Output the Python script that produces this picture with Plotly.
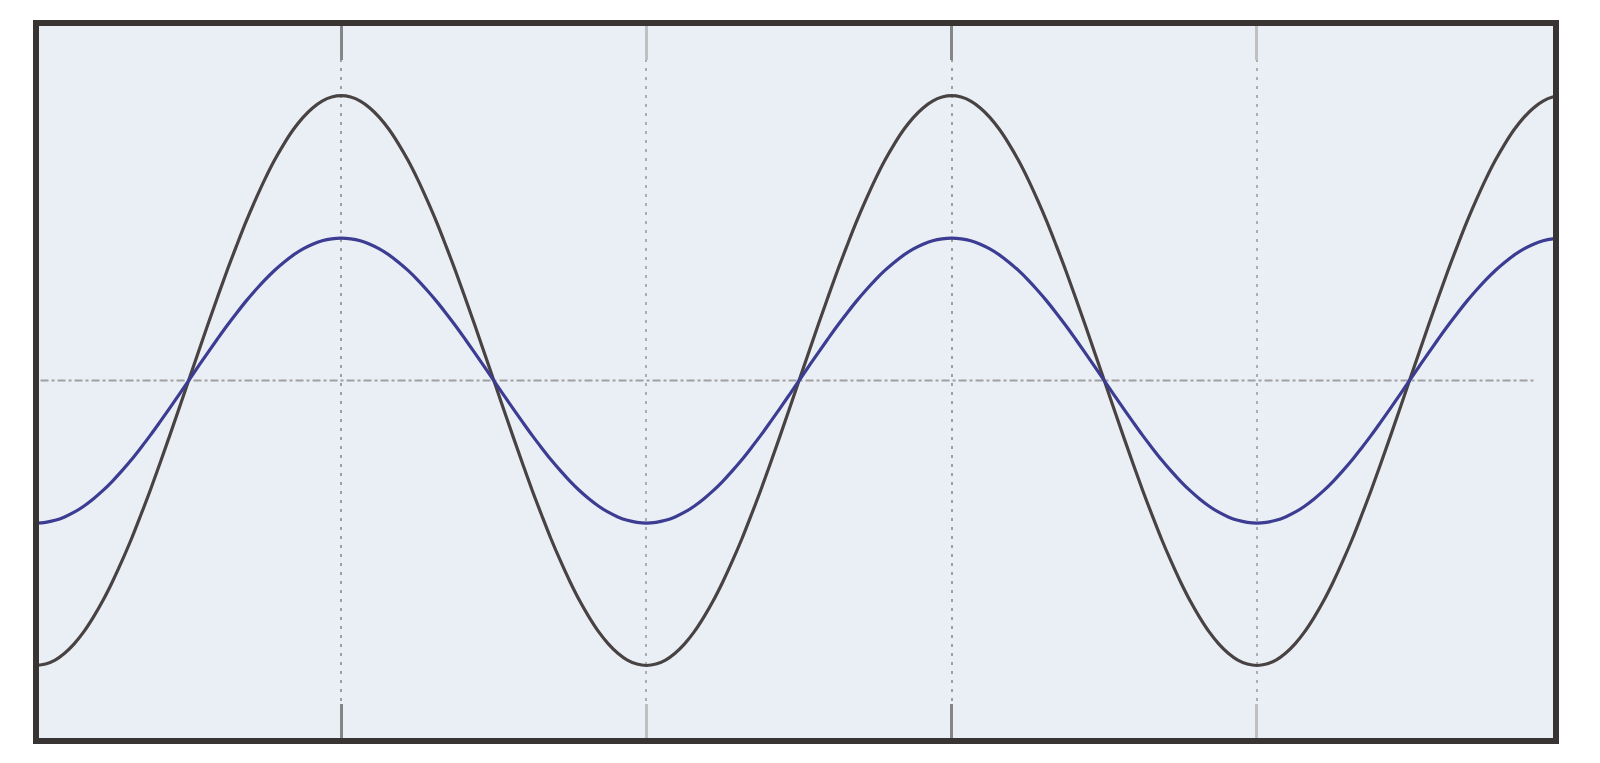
import plotly.graph_objects as go

# Sample positions (in grid divisions) and values
x_vals = [i / 32 for i in range(161)]
rise = [0.0, 0.098, 0.195, 0.290, 0.383, 0.471, 0.556, 0.634,
        0.707, 0.773, 0.831, 0.882, 0.924, 0.957, 0.981, 0.995]      # zero crossing up to peak
fall = [1.0, 0.995, 0.981, 0.957, 0.924, 0.882, 0.831, 0.773,
        0.707, 0.634, 0.556, 0.471, 0.383, 0.290, 0.195, 0.098]      # peak down to zero crossing
black_period = ([-v for v in fall] + rise + fall + [-v for v in rise])  # starts at a trough
black_vals = (black_period * 3)[:160] + [1.0]
blue_scale = 0.5  # blue amplitude read as half the black one
blue_vals = [blue_scale * v for v in black_vals]

major_ticks = [1, 3]
minor_dtick = 1

fig = go.Figure()
fig.add_trace(go.Scatter(x=x_vals, y=black_vals, mode="lines",
                         line=dict(color="#484242", width=3.2, shape="spline", smoothing=1.0),
                         showlegend=False, hoverinfo="skip"))
fig.add_trace(go.Scatter(x=x_vals, y=blue_vals, mode="lines",
                         line=dict(color="#3c3c92", width=3.2, shape="spline", smoothing=1.0),
                         showlegend=False, hoverinfo="skip"))

fig.update_layout(
    width=1600, height=763,
    margin=dict(l=36, r=44, t=23, b=22),
    paper_bgcolor="white",
    plot_bgcolor="#eaeff5",
    xaxis=dict(
        range=[0, 4.98], tickvals=major_ticks, showticklabels=False,
        ticks="inside", ticklen=37, tickwidth=3, tickcolor="#858585",
        mirror="ticks", showline=False, zeroline=False,
        showgrid=True, gridcolor="#a0a0a0", gridwidth=2, griddash="3px,6px",
        minor=dict(dtick=minor_dtick, tick0=0, ticks="inside", ticklen=37,
                   tickwidth=3, tickcolor="#c0c0c0", showgrid=True,
                   gridcolor="#adadad", gridwidth=2, griddash="3px,6px"),
    ),
    yaxis=dict(
        range=[-1.265, 1.255], showticklabels=False, ticks="",
        showgrid=False, zeroline=False, showline=False,
    ),
    shapes=[
        dict(type="line", xref="paper", yref="y", x0=0.003, x1=0.986, y0=0, y1=0,
             line=dict(color="#a0a0a0", width=2, dash="8px,3px,3px,3px"), layer="below"),
        dict(type="rect", xref="paper", yref="paper", x0=0, x1=1, y0=0, y1=1,
             line=dict(color="#383434", width=6), layer="above"),
    ],
)

fig.write_html("out.html", config={"displayModeBar": False},
               post_script="document.body.style.margin='0';")
